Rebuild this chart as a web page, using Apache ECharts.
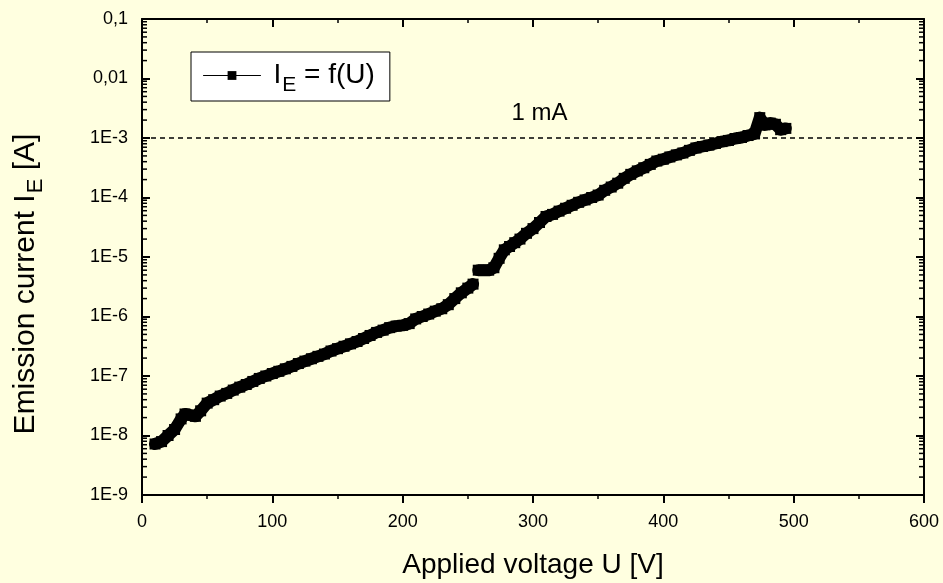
<!DOCTYPE html>
<html>
<head>
<meta charset="utf-8">
<script src="https://cdn.jsdelivr.net/npm/echarts@6/dist/echarts.min.js"></script>
<style>
html,body{margin:0;padding:0;background:#FFFFE0;}
#c{width:943px;height:583px;}
</style>
</head>
<body>
<div id="c"></div>
<script>
// Applied voltage U [V]
const voltage = [10,15,20,25,30,33,37,41,45,50,55,60,65,70,75,80,85,90,95,100,
  105,110,115,120,125,130,135,140,145,150,155,160,165,170,175,180,185,190,195,200,
  205,210,215,220,225,230,235,240,245,250,254,258,262,266,270,274,278,282,286,290,
  295,300,305,310,315,320,325,330,335,340,345,350,355,360,365,370,375,380,385,390,
  395,400,405,410,415,420,425,430,435,440,445,450,455,460,465,470,474,478,482,486,490,494];
// Emission current I_E [A]
const current = [7.2e-9,7.9e-9,1.0e-8,1.26e-8,1.9e-8,2.3e-8,2.2e-8,2.1e-8,2.6e-8,3.5e-8,
  4.0e-8,4.6e-8,5.1e-8,5.8e-8,6.5e-8,7.2e-8,8.1e-8,9.1e-8,1.0e-7,1.1e-7,
  1.2e-7,1.32e-7,1.45e-7,1.62e-7,1.78e-7,1.95e-7,2.14e-7,2.34e-7,2.63e-7,2.88e-7,
  3.16e-7,3.47e-7,3.8e-7,4.27e-7,4.8e-7,5.4e-7,5.9e-7,6.5e-7,6.9e-7,7.1e-7,
  7.6e-7,9.1e-7,1.0e-6,1.1e-6,1.23e-6,1.35e-6,1.58e-6,2.0e-6,2.5e-6,3.0e-6,
  3.5e-6,6.0e-6,6.0e-6,6.0e-6,6.6e-6,9.5e-6,1.32e-5,1.5e-5,1.74e-5,2.0e-5,
  2.5e-5,3.0e-5,3.8e-5,4.8e-5,5.2e-5,5.9e-5,6.6e-5,7.4e-5,8.3e-5,9.1e-5,
  1.0e-4,1.1e-4,1.32e-4,1.5e-4,1.74e-4,2.1e-4,2.45e-4,2.8e-4,3.16e-4,3.6e-4,
  4.1e-4,4.4e-4,4.8e-4,5.2e-4,5.6e-4,6.2e-4,6.8e-4,7.2e-4,7.6e-4,8.1e-4,
  8.7e-4,9.1e-4,9.8e-4,1.02e-3,1.1e-3,1.17e-3,2.2e-3,1.66e-3,1.78e-3,1.7e-3,1.38e-3,1.45e-3];
// the measured curve has a visible jump (gap) after this voltage
const gapAfterVoltage = 254;
// Tick labels of the log axis, from 1E-9 up to 0,1
const yTickLabels = ['1E-9','1E-8','1E-7','1E-6','1E-5','1E-4','1E-3','0,01','0,1'];
const yMinExp = -9, yMaxExp = -1;
const xMin = 0, xMax = 600, xStep = 100;
// reference line
const refCurrent = 1e-3;
const refLabel = '1 mA';
const refLabelPos = [305, 2.6e-3];
const seriesName = 'IE';

const yMinorTicks = [];
for (let e = yMinExp; e < yMaxExp; e++) {
  for (let m = 2; m <= 9; m++) yMinorTicks.push(m * Math.pow(10, e));
}

const FONT = "'Liberation Sans', Arial, sans-serif";
const chart = echarts.init(document.getElementById('c'), null, {renderer: 'canvas'});

const yLabel = v => {
  const e = Math.round(Math.log10(v));
  return yTickLabels[e - yMinExp] || '';
};

const pts = voltage.map((v, i) => [v, current[i]]);
const seg1 = pts.filter(p => p[0] <= gapAfterVoltage);
const seg2 = pts.filter(p => p[0] > gapAfterVoltage);

const curveStyle = {
  type: 'line',
  name: seriesName,
  xAxisIndex: 0, yAxisIndex: 0,
  symbol: 'rect',
  symbolSize: 11,
  showAllSymbol: true,
  itemStyle: {color: '#000'},
  lineStyle: {color: '#000', width: 12, join: 'round', cap: 'round'},
  z: 5
};

const option = {
  backgroundColor: '#FFFFE0',
  animation: false,
  grid: {left: 142, right: 19, top: 19, bottom: 88, containLabel: false, outerBoundsMode: 'none'},
  legend: {
    show: true,
    data: [seriesName],
    left: 191, top: 52,
    orient: 'horizontal',
    backgroundColor: '#ffffff',
    borderColor: '#000',
    borderWidth: 1,
    borderRadius: 0,
    padding: [3, 15, 5, 12],
    itemWidth: 57,
    itemHeight: 11,
    lineStyle: {color: '#000', width: 1, opacity: 1},
    itemStyle: {color: '#000'},
    formatter: () => '{i|I}{s|E}{a| = f(U)}',
    textStyle: {
      fontFamily: FONT, color: '#000',
      rich: {
        i: {fontFamily: FONT, fontSize: 28, lineHeight: 40, color: '#000', padding: [0, 0, 0, 8]},
        s: {fontFamily: FONT, fontSize: 21, lineHeight: 20, color: '#000', padding: [20, 0, 0, 1]},
        a: {fontFamily: FONT, fontSize: 28, lineHeight: 40, color: '#000'}
      }
    }
  },
  xAxis: [
    {
      type: 'value', position: 'bottom', min: xMin, max: xMax, interval: xStep,
      name: 'Applied voltage U [V]', nameLocation: 'middle', nameGap: 56,
      nameTextStyle: {fontFamily: FONT, fontSize: 28, color: '#000'},
      axisLine: {show: true, onZero: false, lineStyle: {color: '#000', width: 2}},
      axisTick: {show: true, inside: false, length: 8, lineStyle: {color: '#000', width: 2}},
      minorTick: {show: true, splitNumber: 2, length: 4, lineStyle: {color: '#000', width: 1.5}},
      axisLabel: {fontFamily: FONT, fontSize: 18, color: '#000', margin: 18},
      splitLine: {show: false}
    },
    {
      type: 'value', position: 'top', min: xMin, max: xMax, interval: xStep,
      axisLine: {show: true, onZero: false, lineStyle: {color: '#000', width: 2}},
      axisTick: {show: true, inside: true, length: 8, lineStyle: {color: '#000', width: 2}},
      minorTick: {show: true, splitNumber: 2, length: 4, lineStyle: {color: '#000', width: 1.5}},
      axisLabel: {show: false},
      splitLine: {show: false}
    }
  ],
  yAxis: [
    {
      type: 'log', logBase: 10, position: 'left', min: Math.pow(10, yMinExp), max: Math.pow(10, yMaxExp),
      splitNumber: 8,
      name: '{a|Emission current I}{s|E}{e| [A]}', nameLocation: 'middle', nameGap: 96, nameRotate: 90,
      nameTextStyle: {
        fontFamily: FONT, color: '#000',
        rich: {
          a: {fontFamily: FONT, fontSize: 30, lineHeight: 40, color: '#000'},
          s: {fontFamily: FONT, fontSize: 22, lineHeight: 20, color: '#000', padding: [20, 0, 0, 1]},
          e: {fontFamily: FONT, fontSize: 30, lineHeight: 40, color: '#000', padding: [0, 54, 0, 0]}
        }
      },
      axisLine: {show: true, onZero: false, lineStyle: {color: '#000', width: 2}},
      axisTick: {show: true, inside: true, length: 8, lineStyle: {color: '#000', width: 2}},
      axisLabel: {fontFamily: FONT, fontSize: 18, color: '#000', margin: 14, formatter: yLabel},
      splitLine: {show: false}
    },
    {
      type: 'log', logBase: 10, position: 'right', min: Math.pow(10, yMinExp), max: Math.pow(10, yMaxExp),
      splitNumber: 8,
      axisLine: {show: true, onZero: false, lineStyle: {color: '#000', width: 2}},
      axisTick: {show: true, inside: true, length: 8, lineStyle: {color: '#000', width: 2}},
      axisLabel: {show: false},
      splitLine: {show: false}
    }
  ],
  series: [
    {
      name: 'ref',
      type: 'line',
      xAxisIndex: 0, yAxisIndex: 0,
      data: [[xMin, refCurrent], [xMax, refCurrent]],
      symbol: 'none',
      silent: true,
      lineStyle: {color: '#000', width: 1.3, type: [5, 4]},
      z: 3,
      markPoint: {
        silent: true, symbol: 'rect', symbolSize: 0,
        itemStyle: {color: 'rgba(0,0,0,0)'},
        label: {show: true, position: 'inside', formatter: refLabel, fontFamily: FONT, fontSize: 24, color: '#000'},
        data: [{coord: refLabelPos}]
      }
    },
    Object.assign({}, curveStyle, {data: seg1}),
    Object.assign({}, curveStyle, {data: seg2}),
    {
      name: 'minorTicks',
      type: 'custom',
      xAxisIndex: 0, yAxisIndex: 0,
      silent: true, clip: false,
      data: yMinorTicks.map(v => [xMin, v]),
      encode: {x: 0, y: 1},
      renderItem: (params, api) => {
        const pL = api.coord([xMin, api.value(1)]);
        const pR = api.coord([xMax, api.value(1)]);
        return {
          type: 'group',
          children: [
            {type: 'line', shape: {x1: pL[0], y1: pL[1], x2: pL[0] + 5, y2: pL[1]}, style: {stroke: '#000', lineWidth: 1.5}},
            {type: 'line', shape: {x1: pR[0] - 5, y1: pR[1], x2: pR[0], y2: pR[1]}, style: {stroke: '#000', lineWidth: 1.5}}
          ]
        };
      }
    }
  ]
};
chart.setOption(option);
</script>
</body>
</html>
